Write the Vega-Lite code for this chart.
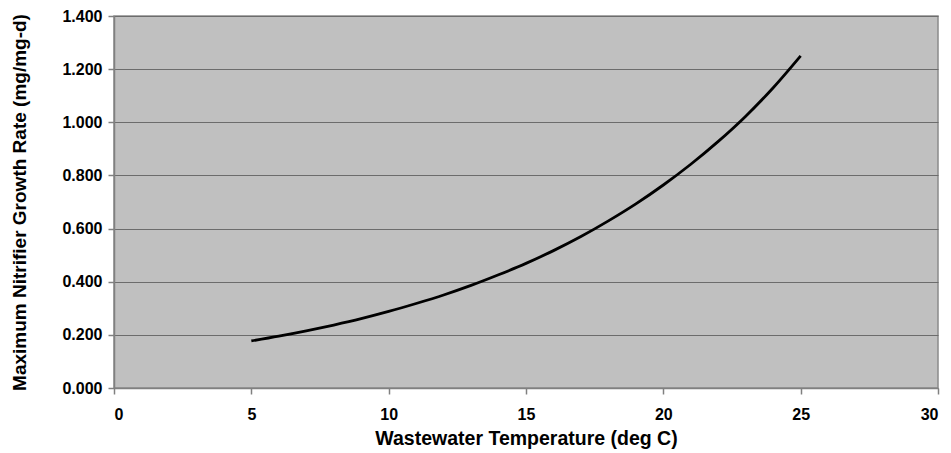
{
  "$schema": "https://vega.github.io/schema/vega-lite/v6.json",
  "autosize": "none",
  "width": 824,
  "height": 372,
  "padding": {"left": 114, "top": 16, "right": 13, "bottom": 65},
  "background": "white",
  "config": {
    "view": {"fill": "#c0c0c0", "stroke": "#8a8a8a", "strokeWidth": 1.5},
    "font": "Liberation Sans"
  },
  "data": {
    "values": [
      {"t": 5, "r": 0.177}, {"t": 6, "r": 0.195}, {"t": 7, "r": 0.215},
      {"t": 8, "r": 0.237}, {"t": 9, "r": 0.261}, {"t": 10, "r": 0.288},
      {"t": 11, "r": 0.318}, {"t": 12, "r": 0.350}, {"t": 13, "r": 0.386},
      {"t": 14, "r": 0.426}, {"t": 15, "r": 0.469}, {"t": 16, "r": 0.517},
      {"t": 17, "r": 0.570}, {"t": 18, "r": 0.629}, {"t": 19, "r": 0.693},
      {"t": 20, "r": 0.764}, {"t": 21, "r": 0.842}, {"t": 22, "r": 0.928},
      {"t": 23, "r": 1.023}, {"t": 24, "r": 1.130}, {"t": 25, "r": 1.250}
    ]
  },
  "mark": {"type": "line", "color": "black", "strokeWidth": 2.8, "interpolate": "monotone"},
  "encoding": {
    "x": {
      "field": "t", "type": "quantitative",
      "scale": {"domain": [0, 30], "nice": false},
      "axis": {
        "title": "Wastewater Temperature (deg C)",
        "values": [0, 5, 10, 15, 20, 25, 30],
        "grid": false,
        "domainColor": "#808080", "domainWidth": 1.5,
        "tickColor": "#808080", "tickSize": 6, "tickWidth": 1.5,
        "labelFont": "Liberation Sans", "labelFontWeight": "bold", "labelFontSize": 16, "labelColor": "black",
        "labelPadding": 12,
        "titleFont": "Liberation Sans", "titleFontWeight": "bold", "titleFontSize": 19.5, "titleColor": "black",
        "titlePadding": 7
      }
    },
    "y": {
      "field": "r", "type": "quantitative",
      "scale": {"domain": [0, 1.4], "nice": false},
      "axis": {
        "title": "Maximum Nitrifier Growth Rate (mg/mg-d)",
        "values": [0, 0.2, 0.4, 0.6, 0.8, 1.0, 1.2, 1.4],
        "format": ".3f",
        "grid": true, "gridColor": "#6c6c6c", "gridWidth": 1.2,
        "domainColor": "#808080", "domainWidth": 1.5,
        "tickColor": "#808080", "tickSize": 6, "tickWidth": 1.5,
        "labelFont": "Liberation Sans", "labelFontWeight": "bold", "labelFontSize": 16, "labelColor": "black",
        "labelPadding": 6,
        "titleFont": "Liberation Sans", "titleFontWeight": "bold", "titleFontSize": 19, "titleColor": "black",
        "titlePadding": 32
      }
    }
  }
}
